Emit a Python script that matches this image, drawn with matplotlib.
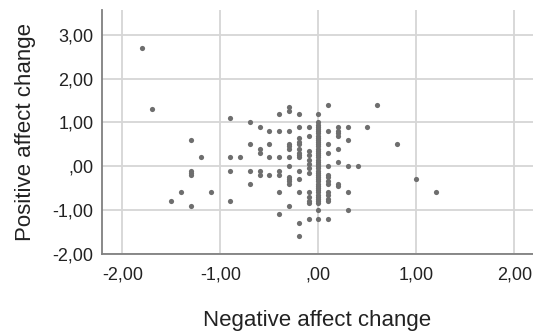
import matplotlib
matplotlib.use('Agg')
import matplotlib.pyplot as plt

# x: negative affect change, y: positive affect change
neg_change = [
    -1.8, -1.7, -1.5, -1.4, -1.3, -1.3, -1.3, -1.3, -1.3, -1.2, -1.1,
    -0.9, -0.9, -0.9, -0.9, -0.8,
    -0.7, -0.7, -0.7, -0.7,
    -0.6, -0.6, -0.6, -0.6, -0.6,
    -0.5, -0.5, -0.5, -0.5,
    -0.4, -0.4, -0.4, -0.4, -0.4, -0.4, -0.4,
    -0.3, -0.3, -0.3, -0.3, -0.3, -0.3, -0.3, -0.3, -0.3, -0.3, -0.3, -0.3, -0.3,
    -0.2, -0.2, -0.2, -0.2, -0.2, -0.2, -0.2, -0.2, -0.2, -0.2, -0.2, -0.2, -0.2, -0.2,
    -0.1, -0.1, -0.1, -0.1, -0.1, -0.1, -0.1, -0.1, -0.1, -0.1, -0.1, -0.1, -0.1,
    0.0, 0.0, 0.0, 0.0, 0.0, 0.0, 0.0, 0.0, 0.0, 0.0, 0.0, 0.0, 0.0, 0.0,
    0.0, 0.0, 0.0, 0.0, 0.0, 0.0, 0.0, 0.0, 0.0, 0.0, 0.0, 0.0, 0.0, 0.0,
    0.0, 0.0, 0.0, 0.0, 0.0, 0.0, 0.0, 0.0, 0.0, 0.0, 0.0, 0.0, 0.0,
    0.1, 0.1, 0.1, 0.1, 0.1, 0.1, 0.1, 0.1, 0.1, 0.1, 0.1, 0.1, 0.1, 0.1,
    0.2, 0.2, 0.2, 0.2, 0.2, 0.2, 0.2, 0.2,
    0.3, 0.3, 0.3, 0.3, 0.3,
    0.4, 0.5, 0.6, 0.8, 1.0, 1.2,
]
pos_change = [
    2.7, 1.3, -0.8, -0.6, 0.6, -0.1, -0.15, -0.2, -0.9, 0.2, -0.6,
    1.1, 0.2, -0.1, -0.8, 0.2,
    1.0, 0.5, -0.1, -0.4,
    0.9, 0.4, 0.3, -0.1, -0.2,
    0.8, 0.5, 0.2, -0.2,
    1.2, 0.8, 0.2, -0.1, -0.2, -0.6, -1.1,
    1.35, 1.25, 0.8, 0.5, 0.45, 0.4, 0.2, 0.0, -0.25, -0.3, -0.35, -0.4, -0.9,
    1.2, 0.9, 0.65, 0.55, 0.5, 0.4, 0.3, 0.25, 0.2, -0.1, -0.3, -0.6, -1.3, -1.6,
    0.9, 0.7, 0.35, 0.25, 0.15, 0.05, -0.05, -0.15, -0.6, -0.7, -0.8, -0.85, -1.2,
    1.2, 1.0, 0.95, 0.9, 0.85, 0.8, 0.75, 0.7, 0.65, 0.6, 0.55, 0.5, 0.45, 0.4,
    0.35, 0.3, 0.25, 0.2, 0.15, 0.1, 0.05, 0.0, -0.05, -0.1, -0.15, -0.2, -0.25, -0.3,
    -0.35, -0.4, -0.45, -0.5, -0.55, -0.6, -0.65, -0.7, -0.75, -0.8, -0.85, -1.0, -1.2,
    1.4, 0.8, 0.5, 0.3, 0.0, -0.2, -0.25, -0.35, -0.4, -0.6, -0.65, -0.75, -0.8, -1.2,
    0.9, 0.8, 0.75, 0.7, 0.4, 0.1, -0.4, -0.45,
    0.9, 0.6, 0.0, -0.6, -1.0,
    0.0, 0.9, 1.4, 0.5, -0.3, -0.6,
]

x_ticks = [-2, -1, 0, 1, 2]
x_labels = ['-2,00', '-1,00', ',00', '1,00', '2,00']
y_ticks = [-2, -1, 0, 1, 2, 3]
y_labels = ['-2,00', '-1,00', ',00', '1,00', '2,00', '3,00']


def main():
    plt.rcParams['font.family'] = ['Liberation Sans', 'DejaVu Sans']

    fig = plt.figure(figsize=(5.33, 3.32), dpi=100)
    ax = fig.add_axes([0.191, 0.236, 0.809, 0.734])

    ax.scatter(neg_change, pos_change, s=14, color='#6e6e6e', linewidths=0, zorder=3)

    ax.set_xlim(-2.21, 2.19)
    ax.set_ylim(-2.0, 3.57)
    ax.set_xticks(x_ticks)
    ax.set_xticklabels(x_labels)
    ax.set_yticks(y_ticks)
    ax.set_yticklabels(y_labels)
    ax.tick_params(length=0, labelsize=13, colors='#222222')
    ax.tick_params(axis='x', pad=9)
    ax.tick_params(axis='y', pad=6)

    ax.grid(True, color='#d6d6d6', linewidth=1.3, zorder=0)
    ax.set_axisbelow(True)

    for side in ['top', 'right']:
        ax.spines[side].set_visible(False)
    for side in ['left', 'bottom']:
        ax.spines[side].set_color('#808080')
        ax.spines[side].set_linewidth(1.3)

    ax.set_xlabel('Negative affect change', fontsize=16, labelpad=19, color='#222222')
    ax.set_ylabel('Positive affect change', fontsize=16, labelpad=12, color='#222222')

    fig.savefig('out.png', dpi=100)


if __name__ == '__main__':
    main()
